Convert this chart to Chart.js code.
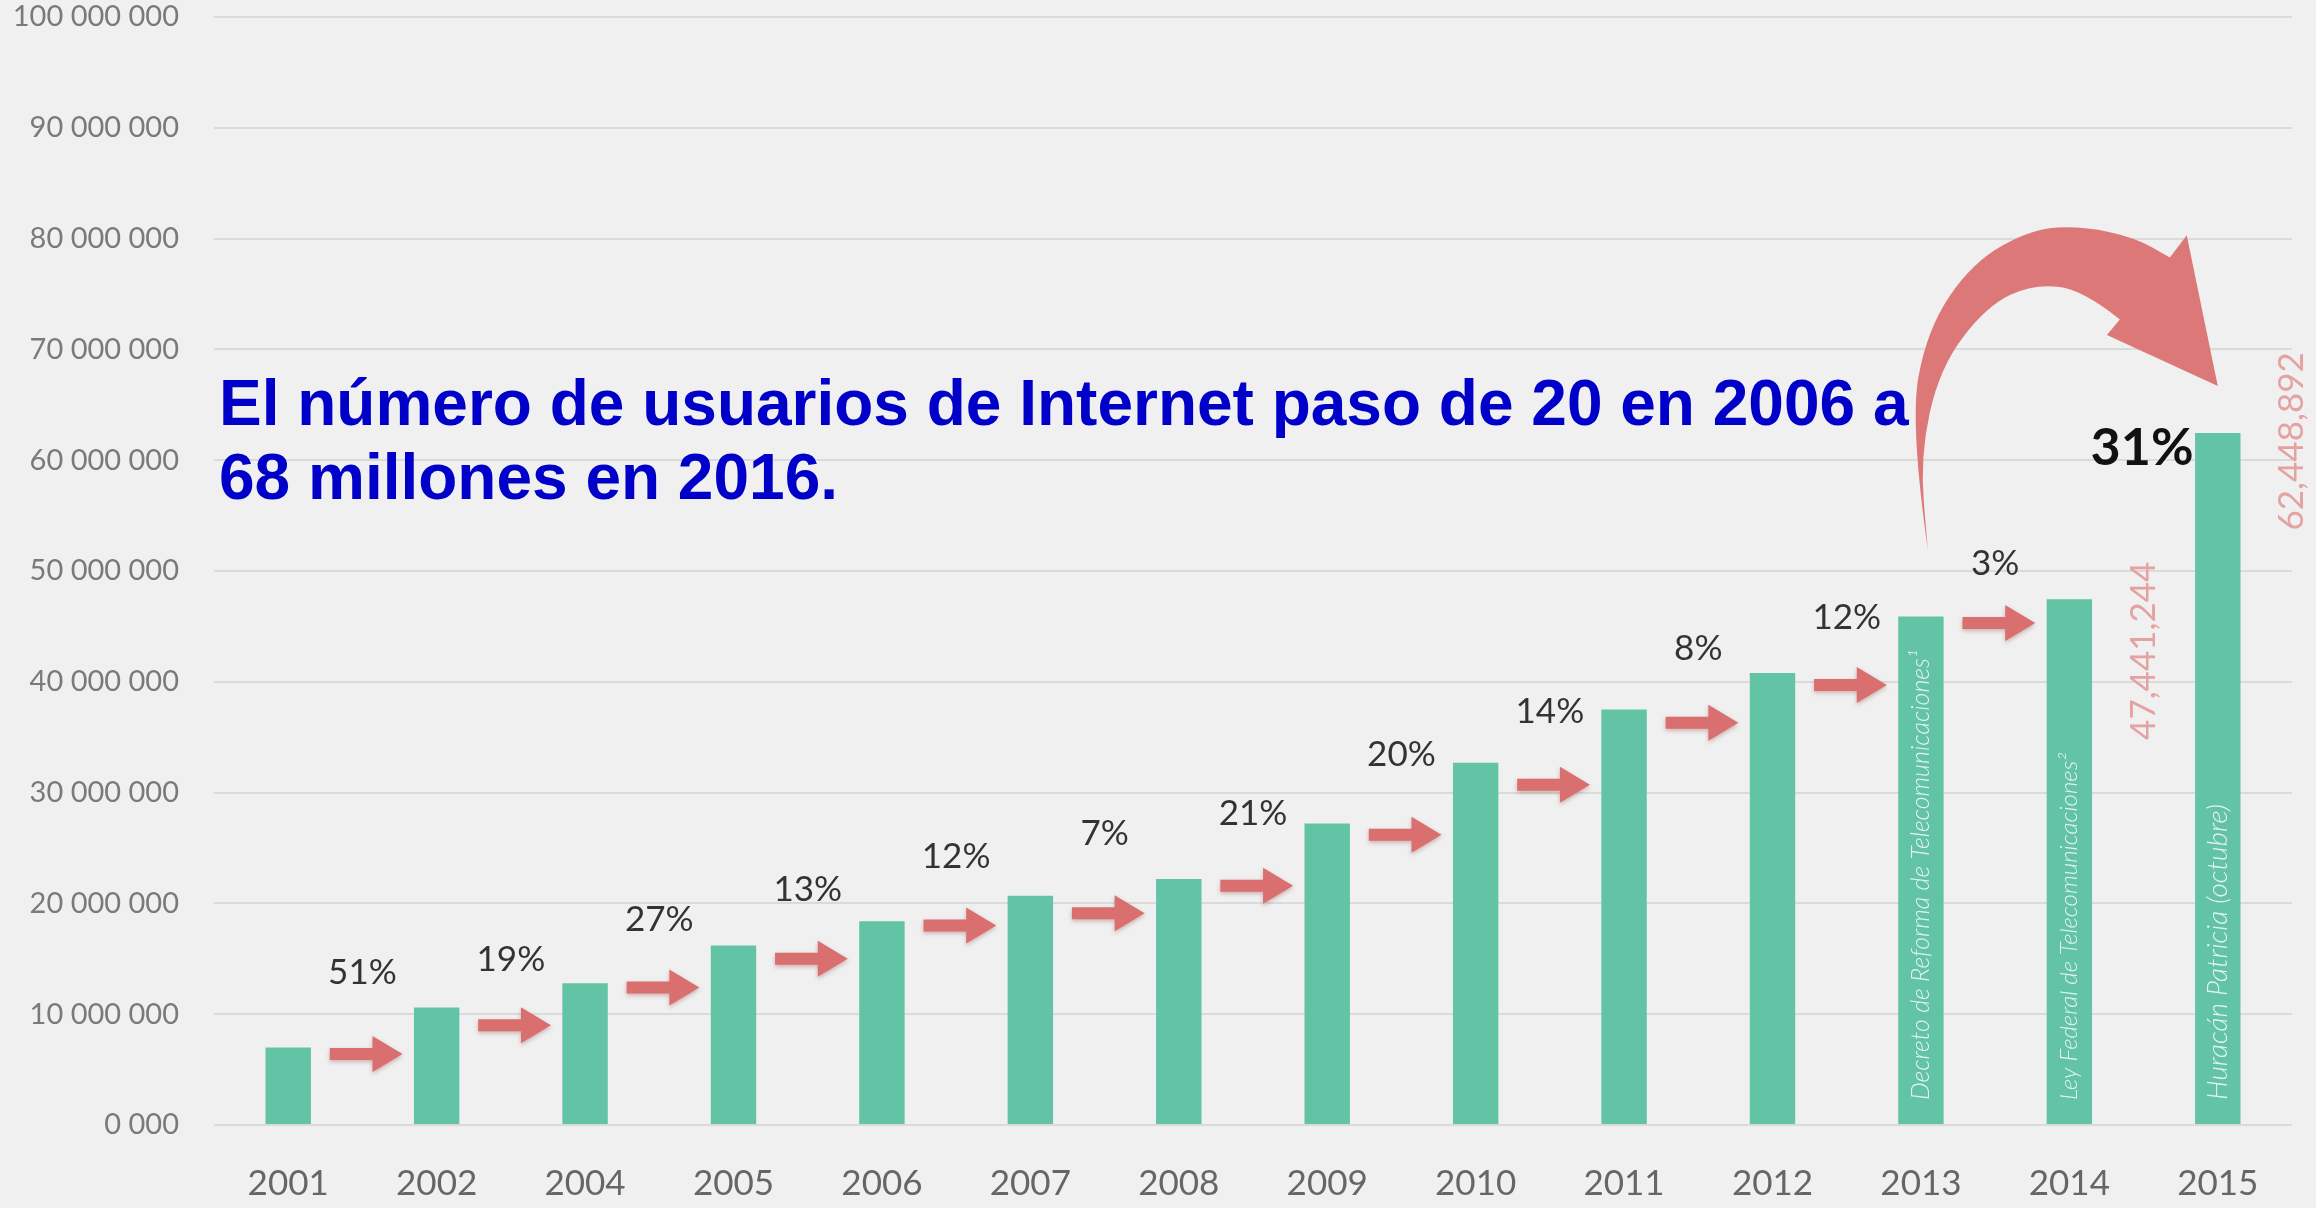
<!DOCTYPE html>
<html><head><meta charset="utf-8">
<script src="https://cdn.jsdelivr.net/npm/chart.js@4.4.0/dist/chart.umd.min.js"></script>
<style>html,body{margin:0;padding:0;background:#f0f0f0;} #wrap{width:2316px;height:1208px;position:relative;}</style>
</head><body><div id="wrap"><canvas id="c"></canvas></div>
<script>
// ---- data ----
const years = ['2001','2002','2004','2005','2006','2007','2008','2009','2010','2011','2012','2013','2014','2015'];
const users = [7000000,10600000,12800000,16200000,18400000,20700000,22200000,27200000,32700000,37500000,40800000,45900000,47441244,62448892];
const growthLabels = ['51%','19%','27%','13%','12%','7%','21%','20%','14%','8%','12%','3%'];
const arrowLevels = [6400000,9000000,12400000,15000000,18000000,19100000,21600000,26200000,30700000,36300000,39700000,45300000];
const growthLabelLevels = [13700000,14900000,18500000,21200000,24200000,26300000,28100000,33400000,37300000,43000000,45800000,50700000];
const bigGrowthLabel = '31%';
const bigGrowthLevel = 61100000;
const yTickValues = [0,10000000,20000000,30000000,40000000,50000000,60000000,70000000,80000000,90000000,100000000];
const yTickLabels = ['0 000','10 000 000','20 000 000','30 000 000','40 000 000','50 000 000','60 000 000','70 000 000','80 000 000','90 000 000','100 000 000'];
const barNotes = ['','','','','','','','','','','','Decreto de Reforma de Telecomunicaciones¹','Ley Federal de Telecomunicaciones²','Huracán Patricia (octubre)'];
const valueNoteIndex = [12, 13];
const valueNoteLevels = [42800000, 61700000];
const titleLines = ['El número de usuarios de Internet paso de 20 en 2006 a', '68 millones en 2016.'];
// big curved arrow outline in (category, value) coordinates
const bigArrowOuter = [[11.047,51.9e6],[10.926,63.2e6],[11.040,71.8e6],[11.350,77.9e6],[11.754,80.9e6],[12.091,81.1e6],[12.441,80.1e6],[12.677,78.3e6]];
const bigArrowHead = [[12.791,80.3e6],[13.0,66.7e6],[12.253,71.3e6]];
const bigArrowInner = [[12.340,72.7e6],[12.091,75.4e6],[11.754,75.9e6],[11.444,73.9e6],[11.128,68.4e6],[10.993,60.3e6],[11.047,51.9e6]];

const FONT = 'Lato, "Open Sans", sans-serif';
const ARROW_COLOR = '#d96f6e';

function smoothPath(ctx, pts, first) {
  if (first) ctx.moveTo(pts[0][0], pts[0][1]); else ctx.lineTo(pts[0][0], pts[0][1]);
  for (let i = 1; i < pts.length - 1; i++) {
    const mx = (pts[i][0] + pts[i+1][0]) / 2, my = (pts[i][1] + pts[i+1][1]) / 2;
    ctx.quadraticCurveTo(pts[i][0], pts[i][1], mx, my);
  }
  const l = pts[pts.length-1];
  ctx.lineTo(l[0], l[1]);
}

const bgPlugin = {
  id: 'bg',
  beforeDraw(chart) {
    const ctx = chart.ctx;
    ctx.save(); ctx.fillStyle = '#f0f0f0'; ctx.fillRect(0,0,chart.width,chart.height); ctx.restore();
  }
};

const annotPlugin = {
  id: 'annot',
  afterDatasetsDraw(chart) {
    const ctx = chart.ctx; const xs = chart.scales.x, ys = chart.scales.y;
    const step = xs.getPixelForValue(1) - xs.getPixelForValue(0);
    // bar notes (rotated)
    ctx.save();
    ctx.fillStyle = 'rgba(255,255,255,0.82)';
    const noteLen = {11: 450, 12: 347, 13: 315};
    barNotes.forEach((t, i) => {
      if (!t) return;
      ctx.save();
      ctx.font = 'italic 300 24px ' + FONT;
      const w = ctx.measureText(t).width;
      const fs = Math.min(28, 24 * (noteLen[i] || 400) / w);
      ctx.font = 'italic 300 ' + fs.toFixed(1) + 'px ' + FONT;
      ctx.translate(xs.getPixelForValue(i), ys.getPixelForValue(0) - 25);
      ctx.rotate(-Math.PI/2);
      ctx.textAlign = 'left'; ctx.textBaseline = 'middle';
      ctx.fillText(t, 0, 0);
      ctx.restore();
    });
    ctx.restore();
    // small arrows
    ctx.save();
    ctx.fillStyle = ARROW_COLOR;
    ctx.shadowColor = 'rgba(140,60,60,0.35)'; ctx.shadowBlur = 4; ctx.shadowOffsetY = 2;
    arrowLevels.forEach((lv, i) => {
      const x0 = xs.getPixelForValue(i) + 0.28*step;
      const x1 = x0 + 0.49*step;
      const yy = ys.getPixelForValue(lv);
      const sh = 6, hh = 18, hl = 30;
      ctx.beginPath();
      ctx.moveTo(x0, yy - sh); ctx.lineTo(x1 - hl, yy - sh); ctx.lineTo(x1 - hl, yy - hh);
      ctx.lineTo(x1, yy); ctx.lineTo(x1 - hl, yy + hh); ctx.lineTo(x1 - hl, yy + sh);
      ctx.lineTo(x0, yy + sh); ctx.closePath(); ctx.fill();
    });
    ctx.restore();
    // growth labels
    ctx.save();
    ctx.fillStyle = '#333'; ctx.font = '35px ' + FONT;
    ctx.textAlign = 'center'; ctx.textBaseline = 'middle';
    growthLabels.forEach((t, i) => {
      ctx.fillText(t, xs.getPixelForValue(i) + 0.5*step, ys.getPixelForValue(growthLabelLevels[i]));
    });
    ctx.restore();
    // big curved arrow
    ctx.save();
    ctx.fillStyle = '#dc7978';
    const P = p => [xs.getPixelForValue(p[0]), ys.getPixelForValue(p[1])];
    ctx.beginPath();
    smoothPath(ctx, bigArrowOuter.map(P), true);
    bigArrowHead.map(P).forEach(p => ctx.lineTo(p[0], p[1]));
    smoothPath(ctx, bigArrowInner.map(P), false);
    ctx.closePath(); ctx.fill();
    ctx.restore();
    // 31%
    ctx.save();
    ctx.fillStyle = '#111'; ctx.font = 'bold 52px ' + FONT;
    ctx.textAlign = 'center'; ctx.textBaseline = 'middle';
    ctx.fillText(bigGrowthLabel, xs.getPixelForValue(12) + 0.49*step, ys.getPixelForValue(bigGrowthLevel));
    ctx.restore();
    // vertical value notes
    ctx.save();
    ctx.fillStyle = '#e4a3a2'; ctx.font = '35px ' + FONT;
    ctx.textAlign = 'center'; ctx.textBaseline = 'middle';
    valueNoteIndex.forEach((idx, k) => {
      ctx.save();
      ctx.translate(xs.getPixelForValue(idx) + 0.5*step, ys.getPixelForValue(valueNoteLevels[k]));
      ctx.rotate(-Math.PI/2);
      ctx.fillText(users[idx].toLocaleString('en-US'), 0, 0);
      ctx.restore();
    });
    ctx.restore();
  },
  afterDraw(chart) {
    const ctx = chart.ctx; const a = chart.chartArea;
    ctx.save();
    ctx.fillStyle = '#0000c8';
    ctx.font = 'bold 64px "Liberation Sans", Arial, sans-serif';
    ctx.textAlign = 'left'; ctx.textBaseline = 'alphabetic';
    ctx.fillText(titleLines[0], a.left + 5, 425);
    ctx.fillText(titleLines[1], a.left + 5, 499);
    ctx.restore();
  }
};

new Chart(document.getElementById('c'), {
  type: 'bar',
  data: {
    labels: years,
    datasets: [{
      data: users,
      backgroundColor: '#62c3a5',
      borderWidth: 0,
      barPercentage: 0.306,
      categoryPercentage: 1.0
    }]
  },
  options: {
    responsive: true,
    maintainAspectRatio: false,
    animation: false,
    layout: { padding: { top: 17, right: 24, left: 0, bottom: 0 } },
    plugins: { legend: { display: false }, tooltip: { enabled: false }, title: { display: false } },
    scales: {
      x: {
        grid: { display: false, drawTicks: false },
        border: { display: false },
        ticks: { color: '#666', font: { family: FONT, size: 35 }, padding: 38, maxRotation: 0 },
        afterFit(s) { s.height = 83; s.paddingLeft = 0; s.paddingRight = 0; }
      },
      y: {
        min: 0, max: 100000000,
        afterBuildTicks(s) { s.ticks = yTickValues.map(v => ({ value: v })); },
        grid: { color: '#dadada', lineWidth: 2, drawTicks: false },
        border: { display: false },
        ticks: {
          color: '#7a7a7a', font: { family: FONT, size: 29 }, padding: 35,
          callback(v) { const i = yTickValues.indexOf(v); return i >= 0 ? yTickLabels[i] : ''; }
        },
        afterFit(s) { s.width = 214; s.paddingTop = 0; s.paddingBottom = 0; }
      }
    }
  },
  plugins: [bgPlugin, annotPlugin]
});
</script>
</body></html>
